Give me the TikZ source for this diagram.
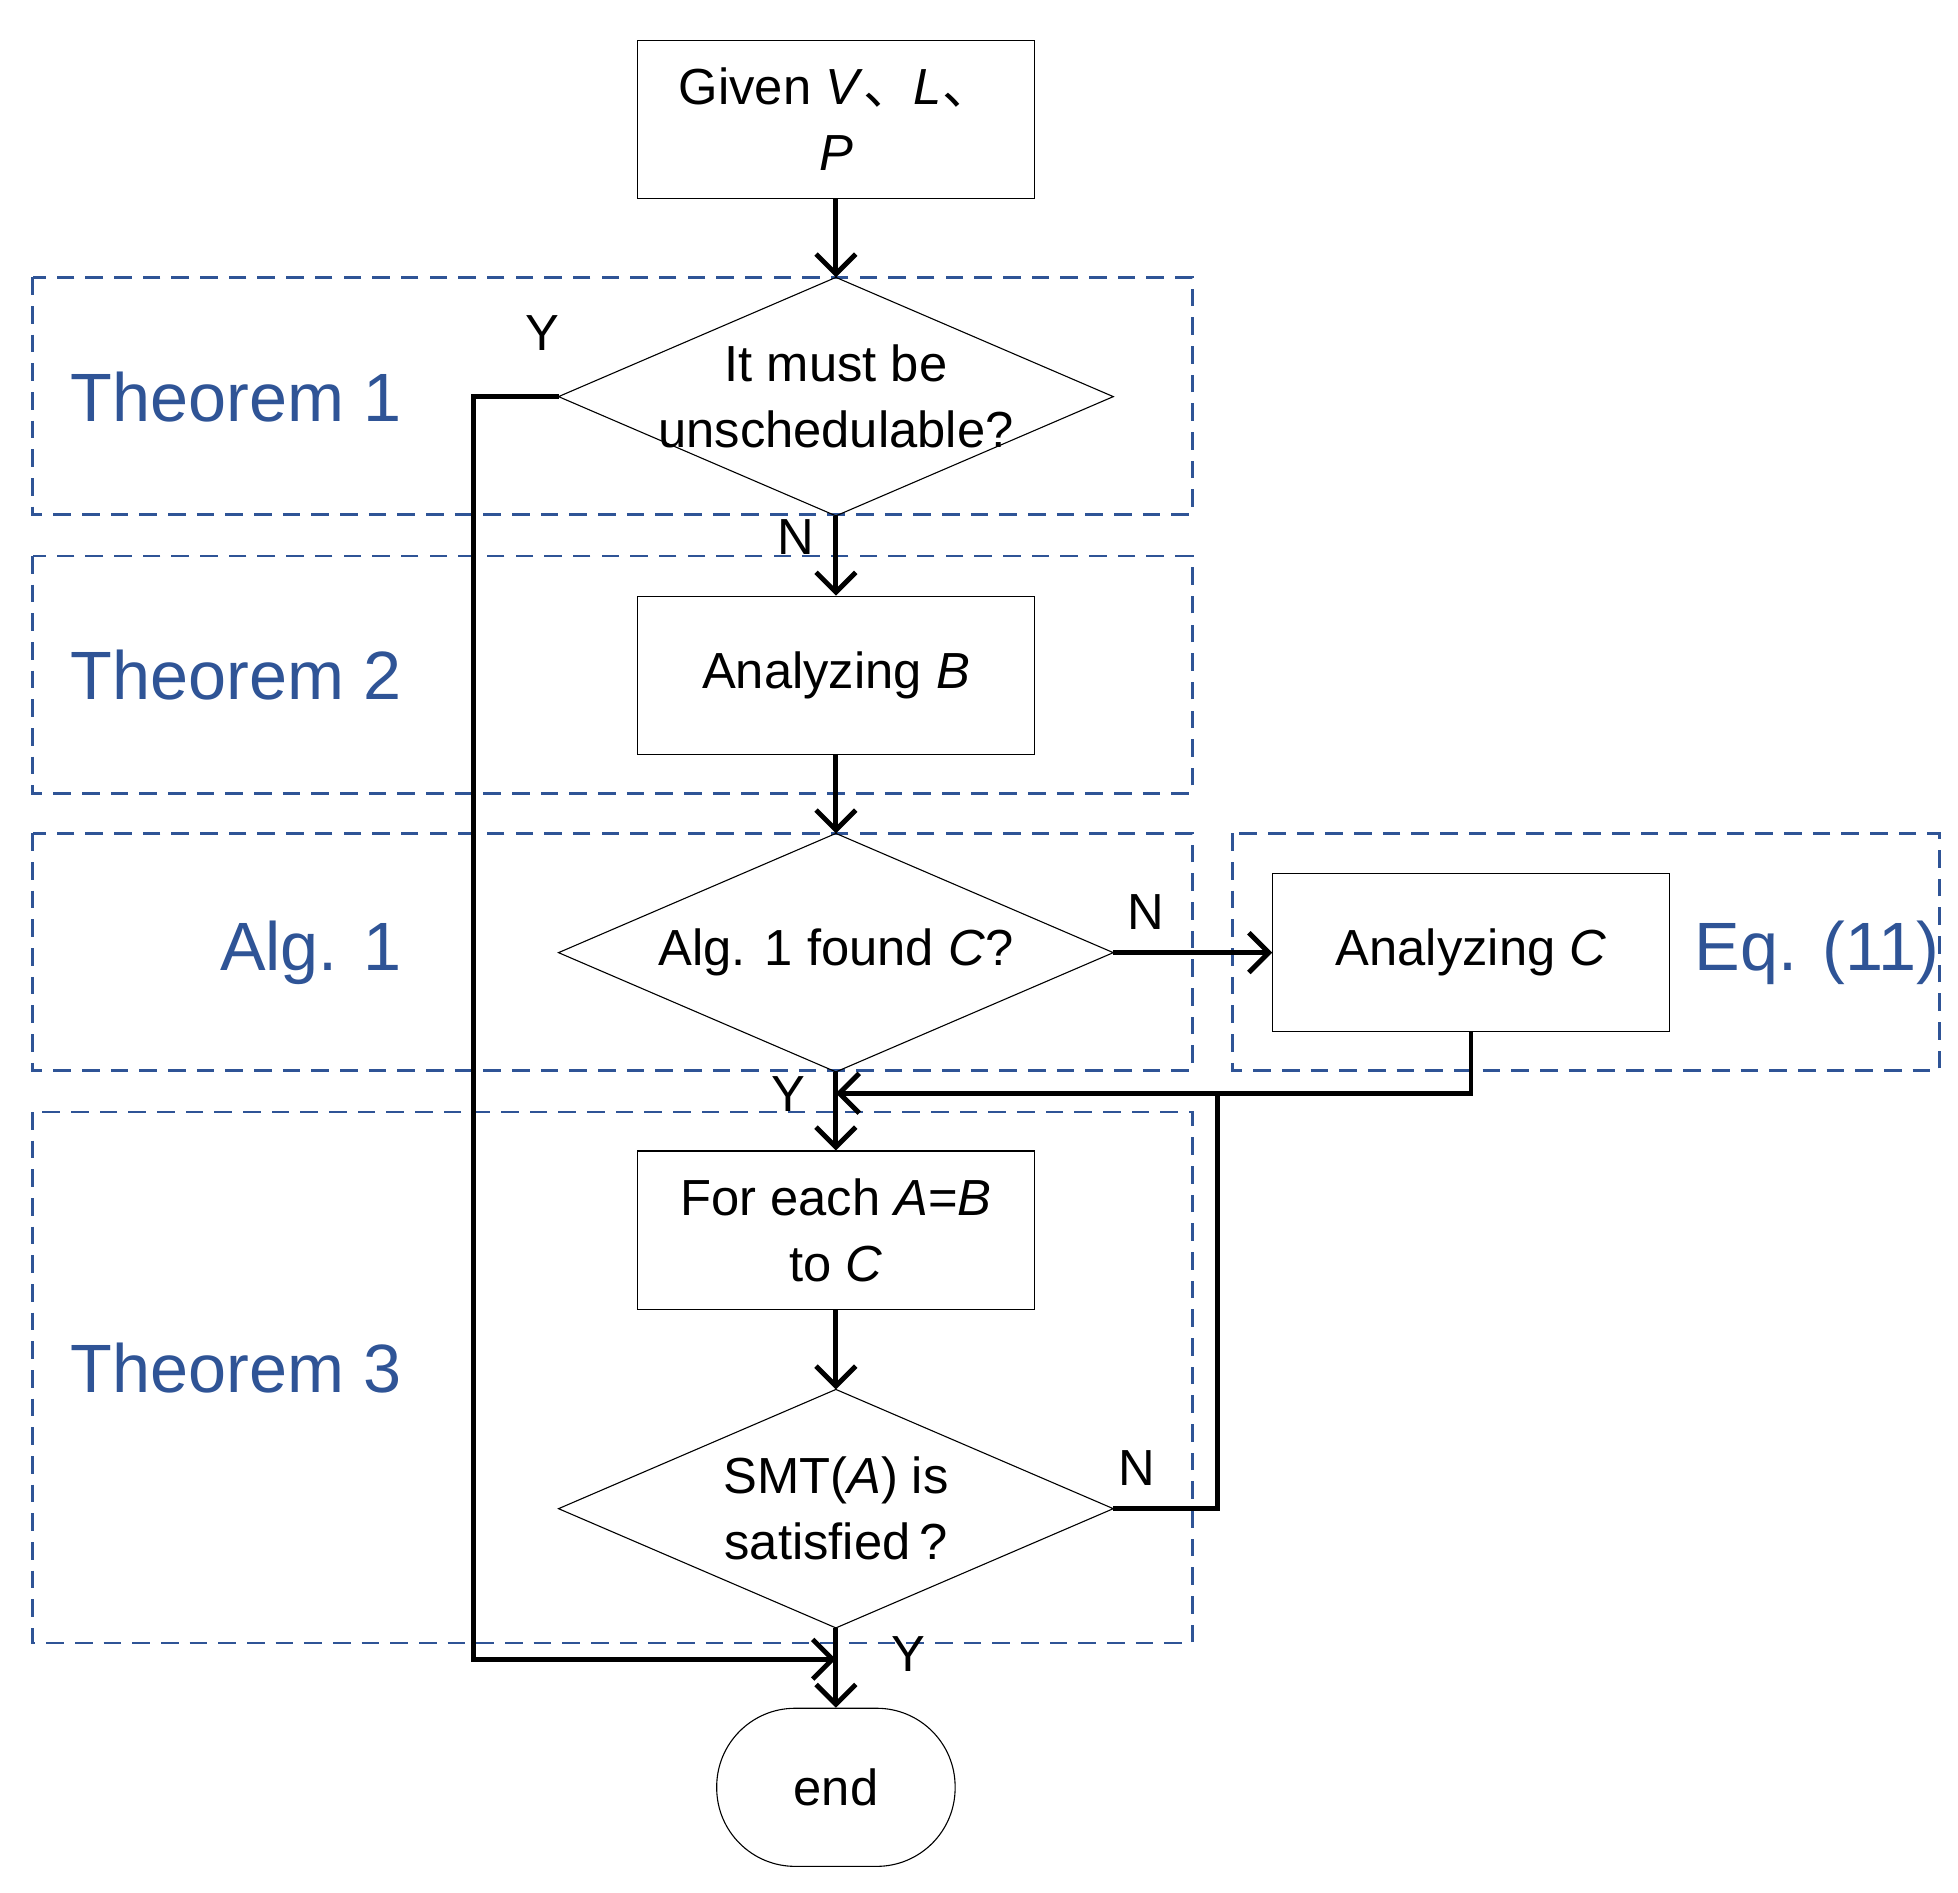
\documentclass[tikz,border=0pt]{standalone}
\usepackage{fontspec}
\setmainfont{Liberation Sans}
\newfontfamily\cjk{Noto Sans CJK SC}
\usetikzlibrary{shapes.geometric,arrows.meta}
\definecolor{tblue}{RGB}{47,84,150}
\newcommand{\mydia}[4]{%
  \coordinate (#1n) at (#2,#3-95); \coordinate (#1s) at (#2,#3+95);
  \coordinate (#1w) at (#2-221,#3); \coordinate (#1e) at (#2+221,#3);
  \draw[line width=0.5pt] (#1n) -- (#1e) -- (#1s) -- (#1w) -- cycle;
  \node[txt] (#1) at (#2,#3) {#4};}
\begin{document}
\begin{tikzpicture}[x=0.02cm,y=-0.02cm,
  txt/.style={align=center,font=\fontsize{23}{30}\selectfont,inner sep=0},
  box/.style={draw,line width=0.5pt,minimum width=6.32cm,minimum height=2.52cm,align=center,font=\fontsize{23}{30}\selectfont,inner sep=0},
  grp/.style={draw=tblue,line width=1.2pt,dash pattern=on 8pt off 5pt},
  glab/.style={text=tblue,font=\fontsize{31}{36}\selectfont,inner sep=0},
  lab/.style={font=\fontsize{23}{28}\selectfont,inner sep=0},
  con/.style={line width=2.2pt,-{Straight Barb[length=9pt,width=18pt,line width=2.2pt]}},
  ln/.style={line width=2.2pt}]
\useasboundingbox (0,0) rectangle (1560,1508);
\draw[grp] (26,221) rectangle (950,410);
\draw[grp] (26,443) rectangle (950,632);
\draw[grp] (26,664) rectangle (950,853);
\draw[grp] (26,886) rectangle (950,1309);
\draw[grp] (982,664) rectangle (1545,853);
\node[glab,anchor=east] (t1) at (320,316) {Theorem 1};
\node[glab,anchor=east] (t2) at (320,538) {Theorem 2};
\node[glab,anchor=east] (a1) at (320,759) {Alg. 1};
\node[glab,anchor=east] (t3) at (320,1090) {Theorem 3};
\node[glab,anchor=west] (eq) at (1350,759) {Eq. (11)};

\node[box] (given) at (666,95) {Given \textit{V}{\cjk 、}\textit{L}{\cjk 、}\\\textit{P}};
\mydia{d1}{666}{316}{It must be\\unschedulable?}
\node[box] (b) at (666,538) {Analyzing \textit{B}};
\mydia{d2}{666}{759}{Alg. 1 found \textit{C}?}
\node[box] (c) at (1172,759) {Analyzing \textit{C}};
\node[box] (fe) at (666,980) {For each \textit{A}=\textit{B}\\to \textit{C}};
\mydia{d3}{666}{1202}{SMT(\textit{A}) is\\satisfied\,?}
\node[draw,line width=0.5pt,rounded corners=1.25cm,minimum width=3.8cm,minimum height=2.52cm,font=\fontsize{23}{30}\selectfont] (end) at (666,1424) {end};

\coordinate (j1) at (666,871);
\coordinate (j2) at (666,1322);
\draw[con] (given) -- (d1n);
\draw[con] (d1s) -- (b.north);
\draw[con] (b.south) -- (d2n);
\draw[con] (d2e) -- (c.west);
\draw[con] (d2s) -- (fe.north);
\draw[con] (fe.south) -- (d3n);
\draw[con] (d3s) -- (end.north);
\draw[con] (c.south) |- (j1);
\draw[ln] (d3e) -- (970,1202) -- (970,871);
\draw[con] (d1w) -- (377,316) -- (377,1322) -- (j2);

\node[lab] (ly1) at (432,265) {Y};
\node[lab] (ln1) at (634,428) {N};
\node[lab] (ln2) at (913,727) {N};
\node[lab] (ly2) at (628,872) {Y};
\node[lab] (ln3) at (906,1170) {N};
\node[lab] (ly3) at (724,1318) {Y};
\end{tikzpicture}
\end{document}
